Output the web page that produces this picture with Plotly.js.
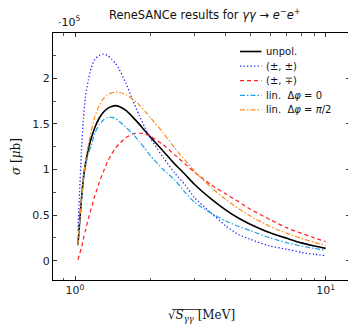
<!DOCTYPE html>
<html>
<head>
<meta charset="utf-8">
<script src="https://cdn.plot.ly/plotly-3.0.1.min.js"></script>
<style>
html,body{margin:0;padding:0;background:#fff;overflow:hidden;}
#chart{width:356px;height:324px;}
</style>
</head>
<body>
<div id="chart"></div>
<script>
// sqrt(S_gg) in MeV
const energy = [1.027,1.04,1.06,1.08,1.10,1.13,1.16,1.20,1.25,1.30,1.35,1.40,1.45,1.50,1.60,1.70,1.80,1.90,2.0,2.25,2.5,2.75,3.0,3.5,4.0,4.5,5.0,6.0,7.0,8.0,9.0,10];
// cross sections in units of 1e5 microbarn
const unpol = [0.17,0.37,0.66,0.90,1.06,1.22,1.34,1.46,1.565,1.63,1.67,1.69,1.70,1.69,1.645,1.575,1.50,1.425,1.355,1.20,1.06,0.945,0.835,0.675,0.555,0.465,0.40,0.305,0.245,0.195,0.16,0.135];
const samePM = [0.33,0.68,1.18,1.56,1.79,1.98,2.11,2.21,2.25,2.265,2.25,2.21,2.165,2.10,1.94,1.76,1.60,1.46,1.345,1.13,0.96,0.83,0.69,0.52,0.38,0.285,0.235,0.16,0.125,0.09,0.07,0.055];
const oppPM = [0.01,0.06,0.14,0.24,0.33,0.46,0.57,0.71,0.86,0.98,1.09,1.17,1.235,1.28,1.35,1.39,1.40,1.39,1.365,1.27,1.16,1.06,0.97,0.83,0.73,0.645,0.565,0.45,0.36,0.30,0.25,0.21];
const lin0 = [0.17,0.37,0.65,0.88,1.03,1.17,1.26,1.40,1.49,1.545,1.57,1.572,1.56,1.53,1.46,1.39,1.31,1.23,1.15,1.00,0.885,0.75,0.64,0.52,0.435,0.375,0.33,0.25,0.197,0.16,0.135,0.115];
const linPi2 = [0.17,0.37,0.67,0.92,1.09,1.27,1.42,1.58,1.70,1.78,1.82,1.84,1.85,1.845,1.82,1.77,1.71,1.64,1.57,1.40,1.235,1.10,0.98,0.80,0.67,0.57,0.49,0.375,0.30,0.245,0.20,0.165];

const names = ['unpol.', '(±, ±)', '(±, ∓)', 'lin.  Δ<i>φ</i> = 0', 'lin.  Δ<i>φ</i> = <i>π</i>/2'];
const series = [unpol, samePM, oppPM, lin0, linPi2];
const styles = [
  {color:'#000000', width:1.6, dash:'solid'},
  {color:'#2222ff', width:1.3, dash:'1.3px,2.2px'},
  {color:'#ff2020', width:1.2, dash:'4px,3px'},
  {color:'#1aa3e8', width:1.2, dash:'5px,2px,1.5px,2px'},
  {color:'#ff8c1a', width:1.2, dash:'5px,2px,1.5px,2px'}
];

const traces = series.map((s,i)=>({
  x: energy, y: s, type:'scatter', mode:'lines', name: names[i],
  line: Object.assign({shape:'spline', smoothing:0.6}, styles[i])
}));

// plot area in pixels: left 53, right 350, top 33, bottom 280
const PL = 53, PW = 297, PT = 33, PH = 247;
const px = v => (v - PL) / PW;
const py = v => (PT + PH - v) / PH;

const shapes = [];
const annotations = [];
names.forEach((n,i)=>{
  const yy = py(51.5 + 14.6*i);
  shapes.push({type:'line', xref:'paper', yref:'paper', x0:px(240), x1:px(261.5), y0:yy, y1:yy,
               line:{color:styles[i].color, width:styles[i].width, dash:styles[i].dash}});
  annotations.push({xref:'paper', yref:'paper', x:px(264), y:yy, xanchor:'left', yanchor:'middle',
                    text:n, showarrow:false, font:{family:'DejaVu Sans, sans-serif', size:10, color:'#111'}});
});
annotations.push({xref:'paper', yref:'paper', x:px(56), y:py(22), xanchor:'left', yanchor:'middle',
                  text:'·10<sup>5</sup>', showarrow:false, font:{family:'DejaVu Sans, sans-serif', size:11, color:'#111'}});
// overline of the square root in the x-axis title
shapes.push({type:'line', xref:'paper', yref:'paper', x0:px(172), x1:px(199), y0:py(309.5), y1:py(309.5),
             line:{color:'#111', width:0.8}});

const tickFont = {family:'DejaVu Sans, sans-serif', size:11, color:'#222'};
const layout = {
  width:356, height:324,
  margin:{l:PL, r:6, t:PT, b:324-PT-PH},
  paper_bgcolor:'#fff', plot_bgcolor:'#fff',
  showlegend:false,
  title:{text:'ReneSANCe results for <i>γγ</i> → <i>e</i><sup>−</sup><i>e</i><sup>+</sup>',
         x:0.575, xanchor:'center', y:0.955, yanchor:'middle',
         font:{family:'DejaVu Sans, sans-serif', size:11.5, color:'#111'}},
  xaxis:{type:'log', range:[-0.0878, 1.097], showgrid:false, zeroline:false,
         showline:true, linecolor:'#000', linewidth:1, mirror:'ticks',
         ticks:'inside', ticklen:4, tickcolor:'#333',
         tickvals:[1,10], ticktext:['10<sup>0</sup>','10<sup>1</sup>'], tickfont:tickFont,
         minor:{ticks:'inside', ticklen:2.5, tickcolor:'#555', tickvals:[0.9,2,3,4,5,6,7,8,9]},
         title:{text:'√<i>S</i><sub><i>γγ</i></sub> [MeV]',
                font:{family:'DejaVu Serif, serif', size:12, color:'#111'}, standoff:16}},
  yaxis:{range:[-0.212, 2.497], showgrid:false, zeroline:false,
         showline:true, linecolor:'#000', linewidth:1, mirror:'ticks',
         ticks:'inside', ticklen:4, tickcolor:'#333',
         tickvals:[0,0.5,1,1.5,2], ticktext:['0','0.5','1','1.5','2'], tickfont:tickFont,
         minor:{ticks:'inside', ticklen:2.5, tickcolor:'#555', dtick:0.25},
         title:{text:'<i>σ</i> [<i>μ</i>b]', font:{family:'DejaVu Serif, serif', size:12, color:'#111'}, standoff:9}},
  shapes: shapes,
  annotations: annotations
};

Plotly.newPlot('chart', traces, layout, {displayModeBar:false, staticPlot:true});
</script>
</body>
</html>
